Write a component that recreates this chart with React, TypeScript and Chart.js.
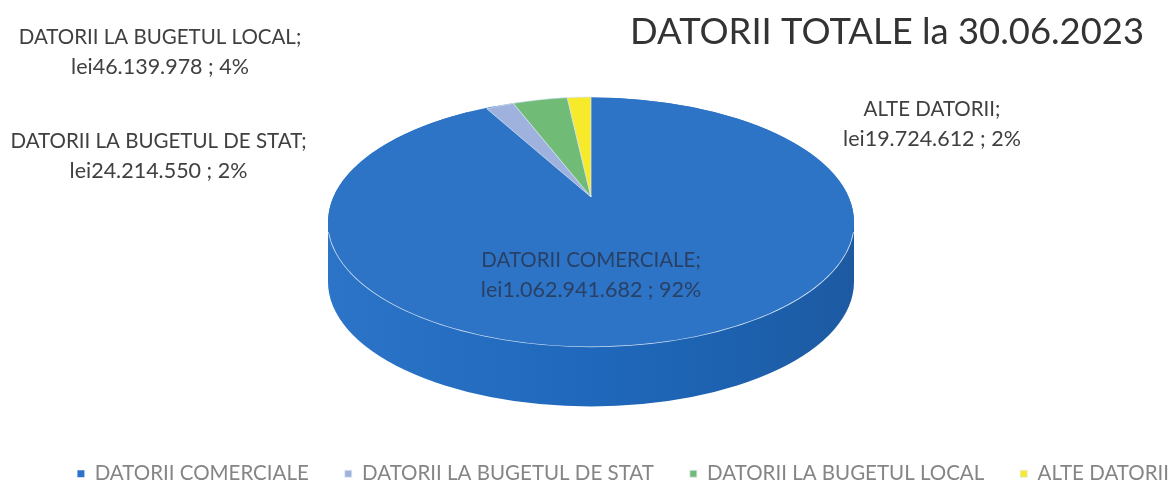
import React, { useEffect, useRef } from "react";
import { Chart, registerables } from "chart.js";

Chart.register(...registerables);

const categories = [
  "DATORII COMERCIALE",
  "DATORII LA BUGETUL DE STAT",
  "DATORII LA BUGETUL LOCAL",
  "ALTE DATORII",
];
const values = [1062941682, 24214550, 46139978, 19724612];
const valueLabels = ["lei1.062.941.682 ; 92%", "lei24.214.550 ; 2%", "lei46.139.978 ; 4%", "lei19.724.612 ; 2%"];
const sliceColors = ["#2e74c6", "#9fb2de", "#70bc76", "#f7ea2a"];
const titleText = "DATORII TOTALE la 30.06.2023";

const FONT = "Lato, Carlito, sans-serif";
const PIE = { cx: 591, cy: 222, rx: 263, ry: 124.5, depth: 60 };
// The reference has perspective: the pie's apex sits behind the ellipse's centre,
// so the slices at the back are foreshortened around that apex.
const BACK = { cx: 591, cy: 197, rx: 221, ry: 100 };
const LABEL_SPOTS = [
  { x: 591, y: 260, color: "rgba(40,55,85,0.85)" },
  { x: 158.5, y: 141, color: "#404040" },
  { x: 160, y: 37, color: "#404040" },
  { x: 932, y: 109, color: "#404040" },
];

const pie3d = {
  id: "pie3d",
  afterLayout(chart: any) {
    chart.titleBlock.right = 1144;
    const legend = chart.legend;
    legend.right += 34;
    legend.top += 10;
    legend.bottom += 10;
  },
  beforeDatasetDraw(chart: any) {
    const { ctx } = chart;
    const elements = chart.getDatasetMeta(0).data;
    const first = elements[0];
    const r = first.outerRadius;

    // side wall
    ctx.save();
    const g = ctx.createLinearGradient(PIE.cx - PIE.rx, 0, PIE.cx + PIE.rx, 0);
    g.addColorStop(0, "#2b74c8");
    g.addColorStop(0.45, "#2069bd");
    g.addColorStop(0.75, "#1d62b0");
    g.addColorStop(1, "#1d5aa2");
    ctx.fillStyle = g;
    ctx.beginPath();
    ctx.ellipse(PIE.cx, PIE.cy + PIE.depth, PIE.rx, PIE.ry, 0, 0, Math.PI);
    ctx.lineTo(PIE.cx - PIE.rx, PIE.cy);
    ctx.lineTo(PIE.cx + PIE.rx, PIE.cy);
    ctx.closePath();
    ctx.fill();

    // top surface under the slices
    ctx.fillStyle = sliceColors[0];
    ctx.beginPath();
    ctx.ellipse(PIE.cx, PIE.cy, PIE.rx, PIE.ry, 0, 0, Math.PI * 2);
    ctx.fill();
    ctx.strokeStyle = "#d3e3f4";
    ctx.lineWidth = 1.5;
    ctx.beginPath();
    ctx.ellipse(PIE.cx, PIE.cy, PIE.rx, PIE.ry, 0, 0.08, Math.PI - 0.08);
    ctx.stroke();
    ctx.restore();

    const drawWith = (t: { cx: number; cy: number; rx: number; ry: number }, el: any) => {
      ctx.save();
      ctx.translate(t.cx, t.cy);
      ctx.scale(t.rx / r, t.ry / r);
      ctx.translate(-el.x, -el.y);
      el.draw(ctx, chart.chartArea);
      ctx.restore();
    };
    drawWith(PIE, elements[0]);
    for (let i = 1; i < elements.length; i++) drawWith(BACK, elements[i]);
    return false;
  },
  afterDatasetsDraw(chart: any) {
    const { ctx } = chart;
    ctx.save();
    ctx.textAlign = "center";
    ctx.textBaseline = "middle";
    categories.forEach((c, i) => {
      const s = LABEL_SPOTS[i];
      ctx.fillStyle = s.color;
      ctx.font = `20.5px ${FONT}`;
      ctx.fillText(c + ";", s.x, s.y);
      ctx.font = `21.5px ${FONT}`;
      ctx.fillText(valueLabels[i], s.x, s.y + 30);
    });
    ctx.restore();
  },
};

export default function App() {
  const ref = useRef<HTMLCanvasElement>(null);
  useEffect(() => {
    const chart = new Chart(ref.current!, {
      type: "pie",
      data: {
        labels: categories,
        datasets: [
          {
            data: values,
            backgroundColor: sliceColors,
            borderColor: "#dfe8f4",
            borderWidth: [0, 0.8, 0.8, 0.8],
          },
        ],
      },
      options: {
        responsive: false,
        animation: false,
        layout: { padding: 0 },
        plugins: {
          tooltip: { enabled: false },
          title: {
            display: true,
            text: titleText,
            align: "end",
            color: "#333333",
            font: { family: FONT, size: 36.4, weight: "normal" },
            padding: { top: 10, bottom: 4 },
          },
          legend: {
            position: "bottom",
            align: "end",
            labels: {
              usePointStyle: true,
              pointStyle: "rect",
              boxWidth: 7,
              boxHeight: 7,
              padding: 36,
              color: "#858585",
              font: { family: FONT, size: 20.5 },
            },
          },
        },
      },
      plugins: [pie3d],
    } as any);
    return () => chart.destroy();
  }, []);
  return (
    <div style={{ position: "absolute", left: 0, top: 0, width: 1171, height: 484, background: "#fff" }}>
      <canvas ref={ref} width={1171} height={484} style={{ display: "block", filter: "blur(0.5px)" }} />
    </div>
  );
}
